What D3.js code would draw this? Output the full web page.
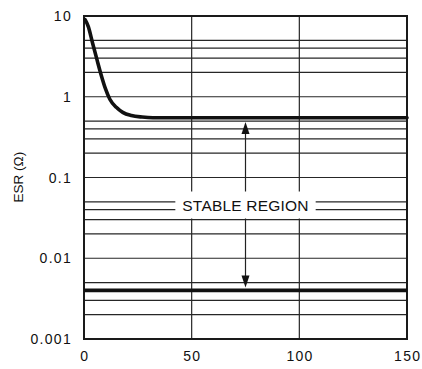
<!DOCTYPE html>
<html>
<head>
<meta charset="utf-8">
<script src="https://cdn.jsdelivr.net/npm/d3@7"></script>
<style>
  html, body { margin: 0; padding: 0; background: #fff; }
  text { font-family: "Liberation Sans", Arial, sans-serif; fill: #111; }
</style>
</head>
<body>
<div id="chart"></div>
<script>
// ESR vs load current, upper boundary of stable region
const curveX = [0.5, 2, 4, 6, 8, 10, 12, 15, 18, 22, 27, 32, 150];
const curveEsr = [9.0, 7.4, 4.6, 2.9, 1.85, 1.25, 0.93, 0.74, 0.64, 0.585, 0.56, 0.55, 0.55];
// lower boundary
const lowerX = [0, 150];
const lowerEsr = [0.004, 0.004];

const xTicks = [0, 50, 100, 150];
const yTicks = [0.001, 0.01, 0.1, 1, 10];
const yTickLabels = ["0.001", "0.01", "0.1", "1", "10"];
const yGrid = [0.002, 0.003, 0.004, 0.005, 0.01, 0.02, 0.03, 0.04, 0.05, 0.1,
               0.2, 0.3, 0.4, 0.5, 1, 2, 3, 4, 5];
const xGrid = [50, 100];
const regionLabel = "STABLE REGION";
const regionAt = {x: 75, y: 0.045};

const W = 422, H = 369;
const margin = {top: 16, right: 15, bottom: 30, left: 84};

const svg = d3.select("#chart").append("svg")
  .attr("width", W).attr("height", H);

const x = d3.scaleLinear().domain([0, 150]).range([margin.left, W - margin.right]);
const y = d3.scaleLog().domain([0.001, 10]).range([H - margin.bottom, margin.top]);

// grid
svg.append("g").selectAll("line").data(yGrid).join("line")
  .attr("x1", x(0)).attr("x2", x(150))
  .attr("y1", d => y(d)).attr("y2", d => y(d))
  .attr("stroke", "#262626").attr("stroke-width", 1.2);
svg.append("g").selectAll("line").data(xGrid).join("line")
  .attr("x1", d => x(d)).attr("x2", d => x(d))
  .attr("y1", y(0.001)).attr("y2", y(10))
  .attr("stroke", "#262626").attr("stroke-width", 1.2);

// frame
svg.append("rect")
  .attr("x", x(0)).attr("y", y(10))
  .attr("width", x(150) - x(0)).attr("height", y(0.001) - y(10))
  .attr("fill", "none").attr("stroke", "#1a1a1a").attr("stroke-width", 2);

// label box (white knock-out)
const lbl = svg.append("g");
const box = lbl.append("rect").attr("fill", "#fff");
const t = lbl.append("text")
  .attr("x", x(regionAt.x)).attr("y", y(regionAt.y))
  .attr("dy", "0.36em")
  .attr("text-anchor", "middle")
  .attr("font-size", 15.5)
  .attr("letter-spacing", 0.2)
  .text(regionLabel);
const bb = t.node().getBBox();
const boxTop = y(regionAt.y) - 14, boxBot = y(regionAt.y) + 13;
box.attr("x", bb.x - 7).attr("width", bb.width + 14)
  .attr("y", boxTop).attr("height", boxBot - boxTop);

// arrows
const ax = x(regionAt.x);
const upTip = y(0.5) + 1, downTip = y(0.004) - 3;
svg.append("line").attr("x1", ax).attr("x2", ax)
  .attr("y1", boxTop).attr("y2", upTip + 8)
  .attr("stroke", "#222").attr("stroke-width", 1.2);
svg.append("line").attr("x1", ax).attr("x2", ax)
  .attr("y1", boxBot).attr("y2", downTip - 8)
  .attr("stroke", "#222").attr("stroke-width", 1.2);
svg.append("path")
  .attr("d", `M${ax},${upTip} L${ax - 4},${upTip + 12} L${ax + 4},${upTip + 12} Z`)
  .attr("fill", "#111");
svg.append("path")
  .attr("d", `M${ax},${downTip} L${ax - 4},${downTip - 12} L${ax + 4},${downTip - 12} Z`)
  .attr("fill", "#111");

// boundary curves
const line = d3.line().curve(d3.curveMonotoneX);
svg.append("path")
  .attr("d", line(curveX.map((d, i) => [x(d), y(curveEsr[i])])))
  .attr("fill", "none").attr("stroke", "#111").attr("stroke-width", 3.6)
  .attr("stroke-linejoin", "round").attr("stroke-linecap", "round");
svg.append("path")
  .attr("d", line(lowerX.map((d, i) => [x(d), y(lowerEsr[i])])))
  .attr("fill", "none").attr("stroke", "#111").attr("stroke-width", 3.6);

// tick labels
svg.append("g").selectAll("text").data(yTicks).join("text")
  .attr("x", x(0) - 12).attr("y", d => y(d))
  .attr("dy", "0.36em").attr("text-anchor", "end")
  .attr("font-size", 14).attr("letter-spacing", 1.3)
  .text((d, i) => yTickLabels[i]);
svg.append("g").selectAll("text").data(xTicks).join("text")
  .attr("x", d => x(d) + 0.7).attr("y", H - 8)
  .attr("text-anchor", "middle")
  .attr("font-size", 14).attr("letter-spacing", 1.3)
  .text(d => d);

// axis title
svg.append("text")
  .attr("transform", `translate(23,${(y(0.1) + y(1)) / 2 + 40}) rotate(-90)`)
  .attr("text-anchor", "middle")
  .attr("font-size", 13.5)
  .text("ESR (Ω)");
</script>
</body>
</html>
